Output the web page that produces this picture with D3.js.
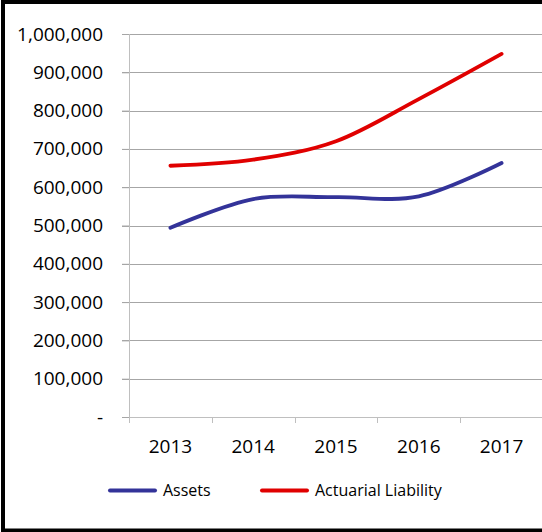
<!DOCTYPE html>
<html>
<head>
<meta charset="utf-8">
<script src="https://cdn.jsdelivr.net/npm/d3@7"></script>
<style>
  body { margin: 0; background: #fff; }
  .chart text { font-family: "Open Sans", sans-serif; fill: #000; }
</style>
</head>
<body>
<div class="chart"></div>
<script>
//Chart data
var years = ["2013", "2014", "2015", "2016", "2017"];
var assets = [494000, 569000, 574000, 576000, 663000];
var liability = [656000, 672000, 720000, 830000, 948000];
var yTicks = [0, 100000, 200000, 300000, 400000, 500000, 600000, 700000, 800000, 900000, 1000000];
var seriesNames = ["Assets", "Actuarial Liability"];
var seriesColors = ["#333399", "#e00000"];

var svgWidth = 542;
var svgHeight = 532;

var margin = { top: 34, right: -1, bottom: 115, left: 129 };
var width = svgWidth - margin.left - margin.right;
var height = svgHeight - margin.top - margin.bottom;

var svg = d3
  .select(".chart")
  .append("svg")
  .attr("width", svgWidth)
  .attr("height", svgHeight);

//Outer frame
svg.append("rect")
  .attr("x", 3)
  .attr("y", 2)
  .attr("width", 600)
  .attr("height", 528.5)
  .attr("fill", "none")
  .attr("stroke", "#000")
  .attr("stroke-width", 4);

var chart = svg.append("g")
  .attr("transform", "translate(" + margin.left + "," + margin.top + ")");

//Scales
var xBandScale = d3.scaleBand().domain(years).range([0, width]);
var yLinearScale = d3.scaleLinear().domain([0, 1000000]).range([height, 0]);

//Gridlines
chart.append("g")
  .selectAll("line")
  .data(yTicks.slice(1))
  .enter()
  .append("line")
  .attr("x1", -7)
  .attr("x2", width)
  .attr("y1", function(d) { return Math.round(yLinearScale(d)) + 0.5; })
  .attr("y2", function(d) { return Math.round(yLinearScale(d)) + 0.5; })
  .attr("stroke", "#a6a6a6")
  .attr("stroke-width", 1);

//Y axis
var leftAxis = d3.axisLeft(yLinearScale)
  .tickValues(yTicks)
  .tickSize(7)
  .tickPadding(19)
  .tickFormat(function(d) { return d === 0 ? "-" : d3.format(",")(d); });

var yAxis = chart.append("g").call(leftAxis);
yAxis.select(".domain").remove();
yAxis.selectAll("line").attr("stroke", "#a6a6a6");
yAxis.selectAll("text").style("font-size", "19px");

chart.append("line")
  .attr("x1", 0.5).attr("x2", 0.5)
  .attr("y1", 0).attr("y2", height + 6)
  .attr("stroke", "#bfbfbf");

//X axis with tick marks between the categories
var bottomAxis = d3.axisBottom(xBandScale).tickSize(0).tickPadding(23);
var xAxis = chart.append("g")
  .attr("transform", "translate(0," + height + ")")
  .call(bottomAxis);
xAxis.select(".domain").remove();
xAxis.selectAll("text").style("font-size", "19px");

chart.append("line")
  .attr("x1", 0).attr("x2", width)
  .attr("y1", height + 0.5).attr("y2", height + 0.5)
  .attr("stroke", "#bfbfbf");

chart.append("g")
  .selectAll("line")
  .data(years)
  .enter()
  .append("line")
  .attr("x1", function(d) { return Math.round(xBandScale(d)) + 0.5; })
  .attr("x2", function(d) { return Math.round(xBandScale(d)) + 0.5; })
  .attr("y1", height)
  .attr("y2", height + 6)
  .attr("stroke", "#bfbfbf");

//Smoothed lines
var line = d3.line()
  .x(function(d, i) { return xBandScale(years[i]) + xBandScale.bandwidth() / 2; })
  .y(function(d) { return yLinearScale(d); })
  .curve(d3.curveCardinal.tension(0));

[assets, liability].forEach(function(values, i) {
  chart.append("path")
    .attr("d", line(values))
    .attr("fill", "none")
    .attr("stroke", seriesColors[i])
    .attr("stroke-width", 3.8)
    .attr("stroke-linecap", "round");
});

//Legend
var legendX = [110, 262];
var legend = svg.append("g");
seriesNames.forEach(function(name, i) {
  legend.append("line")
    .attr("x1", legendX[i])
    .attr("x2", legendX[i] + 45)
    .attr("y1", 490.5)
    .attr("y2", 490.5)
    .attr("stroke", seriesColors[i])
    .attr("stroke-width", 4)
    .attr("stroke-linecap", "round");
  legend.append("text")
    .attr("x", legendX[i] + 53)
    .attr("y", 496)
    .style("font-size", "16px")
    .text(name);
});
</script>
</body>
</html>
